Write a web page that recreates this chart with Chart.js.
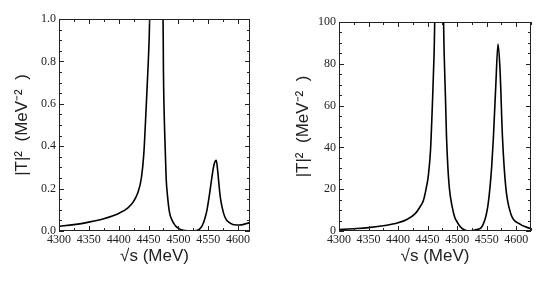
<!DOCTYPE html>
<html>
<head>
<meta charset="utf-8">
<script src="https://cdn.jsdelivr.net/npm/chart.js@4"></script>
<style>
  html, body { margin: 0; padding: 0; background: #fff; }
  #wrap { position: relative; width: 545px; height: 281px; }
  canvas { position: absolute; top: 0; }
  #leftChart { left: 0; }
  #rightChart { left: 272px; }
</style>
</head>
<body>
<div id="wrap">
  <canvas id="leftChart" width="272" height="281"></canvas>
  <canvas id="rightChart" width="273" height="281"></canvas>
</div>
<script>
// left panel: |T|^2 (values above 1.0 are off scale)
const leftEnergy = [4300, 4325, 4350, 4375, 4400, 4415, 4425, 4432, 4438, 4442, 4445, 4448, 4451, 4453,
    4474, 4475, 4477, 4479.5, 4482, 4485, 4488, 4492, 4496, 4502, 4508, 4515, 4522, 4530, 4535, 4540,
    4544, 4548, 4552, 4556, 4559.5, 4563.5, 4566, 4568, 4570, 4573, 4578, 4586, 4597, 4605, 4614, 4620];
const leftT2 = [0.022, 0.03, 0.042, 0.058, 0.083, 0.108, 0.14, 0.18, 0.25, 0.36, 0.52, 0.7, 0.9, 1.1,
    1.1, 0.75, 0.47, 0.25, 0.16, 0.09, 0.06, 0.037, 0.022, 0.01, 0.004, 0.001, 0.0, 0.002, 0.008, 0.025,
    0.055, 0.1, 0.17, 0.25, 0.31, 0.333, 0.28, 0.22, 0.165, 0.115, 0.065, 0.038, 0.028, 0.029, 0.035, 0.04];

// right panel: |T|^2 (values above 100 are off scale)
const rightEnergy = [4300, 4325, 4350, 4378, 4400, 4415, 4429, 4437, 4443, 4448, 4451, 4455, 4458, 4461, 4463,
    4476, 4478, 4480.3, 4482, 4484.2, 4487, 4491.6, 4496, 4500, 4504, 4508.6, 4514, 4520, 4526, 4532, 4537,
    4540, 4544, 4548.3, 4552, 4555.6, 4558.5, 4561.4, 4565.3, 4569.2, 4572.6, 4576.7, 4582.3, 4590.8, 4605, 4625];
const rightT2 = [0.7, 1.1, 1.6, 2.6, 3.9, 5.5, 8.3, 11.5, 14.7, 21, 26, 39, 60, 85, 110,
    110, 85, 63, 45, 31, 20, 11.5, 6.5, 4.3, 2.5, 1.1, 0.3, 0.0, 0.2, 0.6, 1.0,
    1.4, 3.2, 6.7, 12, 21, 31, 45, 69, 89.5, 77, 45, 21, 8.3, 3.5, 1.1];

const xTickStep = 50, xMinorStep = 25;
const leftYMax = 1.0, leftYStep = 0.2, leftYMinor = 0.05;
const rightYMax = 100, rightYStep = 20, rightYMinor = 5;

const tickFont = { family: 'Liberation Serif', size: 12 };
const titleFont = { family: 'Liberation Sans', size: 17 };

// frame and inward ticks on all four sides
const insideTicks = {
    id: 'insideTicks',
    afterDraw(chart, args, opts) {
        const { ctx, chartArea: a, scales: { x, y } } = chart;
        ctx.save();
        ctx.strokeStyle = '#222';
        ctx.lineWidth = 1;
        ctx.strokeRect(a.left + 0.5, a.top + 0.5, a.width - 1, a.height - 1);
        ctx.beginPath();
        const nx = Math.floor((x.max - x.min) / opts.xMinor + 1e-6);
        for (let i = 0; i <= nx; i++) {
            const v = x.min + i * opts.xMinor;
            const px = Math.round(x.getPixelForValue(v)) + 0.5;
            const major = Math.abs(v / opts.xMajor - Math.round(v / opts.xMajor)) < 1e-6;
            const len = major ? 5 : 3;
            ctx.moveTo(px, a.bottom); ctx.lineTo(px, a.bottom - len);
            ctx.moveTo(px, a.top); ctx.lineTo(px, a.top + len);
        }
        const ny = Math.floor((y.max - y.min) / opts.yMinor + 1e-6);
        for (let i = 0; i <= ny; i++) {
            const v = y.min + i * opts.yMinor;
            const py = Math.round(y.getPixelForValue(v)) + 0.5;
            const major = Math.abs(v / opts.yMajor - Math.round(v / opts.yMajor)) < 1e-6;
            const len = major ? 5 : 3;
            ctx.moveTo(a.left, py); ctx.lineTo(a.left + len, py);
            ctx.moveTo(a.right, py); ctx.lineTo(a.right - len, py);
        }
        ctx.stroke();
        ctx.restore();
    }
};

function makePanel(id, energy, values, xMax, yMax, yStep, yMinor, yWidth, yTitlePad, pad, decimals) {
    const ctx = document.getElementById(id).getContext('2d');
    return new Chart(ctx, {
        type: 'line',
        data: {
            datasets: [{
                data: energy.map((e, i) => ({ x: e, y: values[i] })),
                borderColor: '#000',
                borderWidth: 1.6,
                pointRadius: 0,
                cubicInterpolationMode: 'monotone',
                fill: false
            }]
        },
        options: {
            responsive: false,
            animation: false,
            layout: { padding: pad },
            plugins: {
                legend: { display: false },
                tooltip: { enabled: false },
                insideTicks: { xMinor: xMinorStep, xMajor: xTickStep, yMinor: yMinor, yMajor: yStep }
            },
            scales: {
                x: {
                    type: 'linear',
                    min: 4300,
                    max: xMax,
                    grid: { display: false, drawTicks: false },
                    border: { display: false },
                    ticks: {
                        stepSize: xTickStep, includeBounds: false, autoSkip: false, maxRotation: 0,
                        padding: 2, color: '#222', font: tickFont,
                        callback: v => String(v)
                    },
                    title: {
                        display: true, text: '√s (MeV)', color: '#222', font: titleFont,
                        padding: { top: 0, bottom: 14 }
                    },
                    afterFit(scale) { scale.height = 50; }
                },
                y: {
                    min: 0,
                    max: yMax,
                    grid: { display: false, drawTicks: false },
                    border: { display: false },
                    ticks: {
                        stepSize: yStep, padding: 3, color: '#222', font: tickFont,
                        callback: v => v.toFixed(decimals)
                    },
                    title: {
                        display: true, text: '|T|²  (MeV⁻²  )', color: '#222', font: titleFont,
                        padding: { top: yTitlePad, bottom: 0 }
                    },
                    afterFit(scale) { scale.width = yWidth; }
                }
            }
        },
        plugins: [insideTicks]
    });
}

makePanel('leftChart', leftEnergy, leftT2, 4620, leftYMax, leftYStep, leftYMinor, 59, 12,
    { top: 19, right: 22, left: 0, bottom: 0 }, 1);
makePanel('rightChart', rightEnergy, rightT2, 4625, rightYMax, rightYStep, rightYMinor, 67, 21,
    { top: 22, right: 14, left: 0, bottom: 0 }, 0);
</script>
</body>
</html>
